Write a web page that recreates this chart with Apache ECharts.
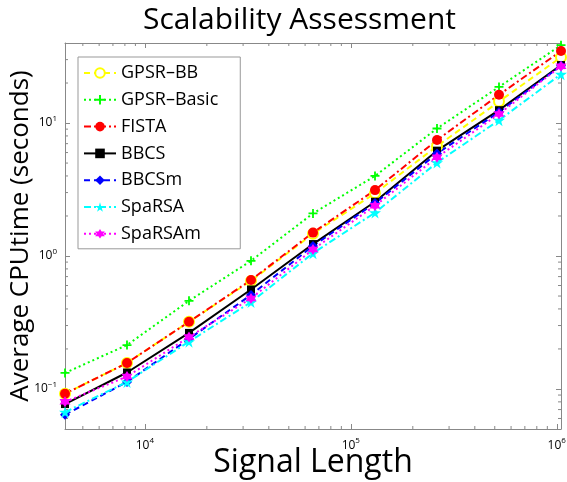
<!DOCTYPE html>
<html>
<head>
<meta charset="utf-8">
<script src="https://cdn.jsdelivr.net/npm/echarts@6/dist/echarts.min.js"></script>
<style>
html, body { margin: 0; padding: 0; background: #fff; }
#chart { width: 567px; height: 482px; }
</style>
</head>
<body>
<div id="chart"></div>
<script>
// signal lengths 2^12 .. 2^20
const signalLength = [4096, 8192, 16384, 32768, 65536, 131072, 262144, 524288, 1048576]
// average cpu time (seconds)
const gpsrBB    = [0.092, 0.157, 0.32, 0.65, 1.47, 2.96, 6.7, 14.5, 31.3]
const gpsrBasic = [0.132, 0.214, 0.46, 0.92, 2.09, 4.0, 9.1, 18.7, 38.5]
const fista     = [0.092, 0.157, 0.32, 0.66, 1.50, 3.13, 7.45, 16.3, 34.8]
const bbcs      = [0.077, 0.133, 0.264, 0.56, 1.23, 2.56, 6.2, 12.5, 27.3]
const bbcsm     = [0.064, 0.113, 0.238, 0.51, 1.19, 2.5, 5.9, 12.1, 27.0]
const sparsa    = [0.067, 0.113, 0.227, 0.45, 1.05, 2.12, 5.04, 10.5, 23.3]
const sparsam   = [0.080, 0.124, 0.246, 0.48, 1.12, 2.39, 5.52, 11.7, 26.8]

const xTickValues = [1e4, 1e5, 1e6]
const xTickLabels = ['10{s|4}', '10{s|5}', '10{s|6}']
const yTickValues = [0.1, 1, 10]
const yTickLabels = ['10{s|−1}', '10{s|0}', '10{s|1}']

const X_MIN = 4096, X_MAX = 1048576
const Y_MIN = 0.05, Y_MAX = 40
const FONT = 'Open Sans'

// minor ticks (2..9 x 10^k) inside the ranges
function minorTicks(lo, hi) {
  const out = []
  for (let e = -3; e <= 7; e++) {
    for (let m = 2; m <= 9; m++) {
      const v = m * Math.pow(10, e)
      if (v > lo && v < hi) out.push(v)
    }
  }
  return out
}

function labelFor(values, labels) {
  return function (v) {
    for (let i = 0; i < values.length; i++) {
      if (Math.abs(Math.log10(v) - Math.log10(values[i])) < 1e-6) return labels[i]
    }
    return ''
  }
}

const supRich = {
  s: { fontSize: 8, fontFamily: FONT, color: '#000', verticalAlign: 'bottom', padding: [0, 0, 9, 0] }
}

const axisLineStyle = { color: '#888', width: 1 }

function pts(ys) {
  return signalLength.map((x, i) => [x, ys[i]])
}

const plusPath = 'path://M4,0H6V4H10V6H6V10H4V6H0V4H4Z'
const starPath = 'path://M50,0L61,35H98L68,57L79,91L50,70L21,91L32,57L2,35H39Z'
const hexPath = 'path://M50,0L64,25H93L79,50L93,75H64L50,100L36,75H7L21,50L7,25H36Z'

const seriesDefs = [
  { name: 'GPSR–BB', data: gpsrBB, color: '#ffff00', type: [6, 4], symbol: 'emptyCircle', size: 10 },
  { name: 'GPSR–Basic', data: gpsrBasic, color: '#00ff00', type: [2, 3], symbol: plusPath, size: 9 },
  { name: 'FISTA', data: fista, color: '#ff0000', type: [7, 3, 2, 3], symbol: 'circle', size: 10 },
  { name: 'BBCS', data: bbcs, color: '#000000', type: 'solid', symbol: 'rect', size: 8 },
  { name: 'BBCSm', data: bbcsm, color: '#0000ff', type: [6, 4], symbol: 'diamond', size: 10 },
  { name: 'SpaRSA', data: sparsa, color: '#00ffff', type: [7, 3, 2, 3], symbol: starPath, size: 12 },
  { name: 'SpaRSAm', data: sparsam, color: '#ff00ff', type: [2, 3], symbol: hexPath, size: 11 }
]

const lineSeries = seriesDefs.map(d => ({
  name: d.name,
  type: 'line',
  data: pts(d.data),
  symbol: d.symbol,
  symbolSize: d.size,
  showSymbol: true,
  color: d.color,
  lineStyle: { color: d.color, width: 2, type: d.type },
  itemStyle: { color: d.color, borderColor: d.color, borderWidth: d.symbol === 'emptyCircle' ? 2 : 0 },
  emphasis: { disabled: true },
  animation: false
}))

const xMinor = minorTicks(X_MIN, X_MAX)
const yMinor = minorTicks(Y_MIN, Y_MAX)

const minorSeries = [
  {
    type: 'custom',
    silent: true,
    animation: false,
    data: xMinor.map(v => [v, Y_MIN]),
    renderItem(params, api) {
      const cs = params.coordSys
      const p = api.coord([api.value(0), api.value(1)])
      const bottom = cs.y + cs.height
      return {
        type: 'group',
        children: [
          { type: 'line', shape: { x1: p[0], y1: bottom, x2: p[0], y2: bottom - 3 }, style: { stroke: '#888', lineWidth: 1 } },
          { type: 'line', shape: { x1: p[0], y1: cs.y, x2: p[0], y2: cs.y + 3 }, style: { stroke: '#888', lineWidth: 1 } }
        ]
      }
    }
  },
  {
    type: 'custom',
    silent: true,
    animation: false,
    data: yMinor.map(v => [X_MIN, v]),
    renderItem(params, api) {
      const cs = params.coordSys
      const p = api.coord([api.value(0), api.value(1)])
      const right = cs.x + cs.width
      return {
        type: 'group',
        children: [
          { type: 'line', shape: { x1: cs.x, y1: p[1], x2: cs.x + 3, y2: p[1] }, style: { stroke: '#888', lineWidth: 1 } },
          { type: 'line', shape: { x1: right, y1: p[1], x2: right - 3, y2: p[1] }, style: { stroke: '#888', lineWidth: 1 } }
        ]
      }
    }
  }
]

const chart = echarts.init(document.getElementById('chart'))
chart.setOption({
  backgroundColor: '#fff',
  animation: false,
  title: {
    text: 'Scalability Assessment',
    left: 138,
    top: 0,
    textStyle: { fontFamily: FONT, fontSize: 30, fontWeight: 'normal', color: '#000' }
  },
  legend: {
    data: seriesDefs.map(d => d.name),
    orient: 'vertical',
    left: 78,
    top: 57,
    padding: [7, 22, 6, 5],
    itemWidth: 32,
    itemHeight: 12,
    itemGap: 8.8,
    backgroundColor: '#fff',
    borderColor: '#999',
    borderWidth: 1,
    borderRadius: 0,
    textStyle: { fontFamily: FONT, fontSize: 18, lineHeight: 17, color: '#000' }
  },
  grid: { left: 65, right: 6, top: 43, bottom: 53, containLabel: false, outerBoundsMode: 'none' },
  xAxis: [
    {
      type: 'log',
      min: X_MIN,
      max: X_MAX,
      name: 'Signal Length',
      nameLocation: 'middle',
      nameGap: 18,
      nameMoveOverlap: false,
      nameTextStyle: { fontFamily: FONT, fontSize: 32, color: '#000', verticalAlign: 'top' },
      axisLine: { lineStyle: axisLineStyle },
      axisTick: { inside: true, length: 5, lineStyle: axisLineStyle },
      splitLine: { show: false },
      axisLabel: {
        margin: 8,
        fontFamily: FONT,
        fontSize: 12,
        color: '#000',
        formatter: labelFor(xTickValues, xTickLabels),
        rich: supRich
      }
    },
    {
      type: 'log',
      position: 'top',
      min: X_MIN,
      max: X_MAX,
      axisLine: { lineStyle: axisLineStyle },
      axisTick: { inside: true, length: 5, lineStyle: axisLineStyle },
      axisLabel: { show: false },
      splitLine: { show: false }
    }
  ],
  yAxis: [
    {
      type: 'log',
      min: Y_MIN,
      max: Y_MAX,
      name: 'Average CPUtime (seconds)',
      nameLocation: 'middle',
      nameGap: 31,
      nameMoveOverlap: false,
      nameTextStyle: { fontFamily: FONT, fontSize: 26, color: '#000' },
      axisLine: { lineStyle: axisLineStyle },
      axisTick: { inside: true, length: 5, lineStyle: axisLineStyle },
      splitLine: { show: false },
      axisLabel: {
        margin: 8,
        fontFamily: FONT,
        fontSize: 12,
        color: '#000',
        formatter: labelFor(yTickValues, yTickLabels),
        rich: supRich
      }
    },
    {
      type: 'log',
      position: 'right',
      min: Y_MIN,
      max: Y_MAX,
      axisLine: { lineStyle: axisLineStyle },
      axisTick: { inside: true, length: 5, lineStyle: axisLineStyle },
      axisLabel: { show: false },
      splitLine: { show: false }
    }
  ],
  series: minorSeries.concat(lineSeries)
})
</script>
</body>
</html>
